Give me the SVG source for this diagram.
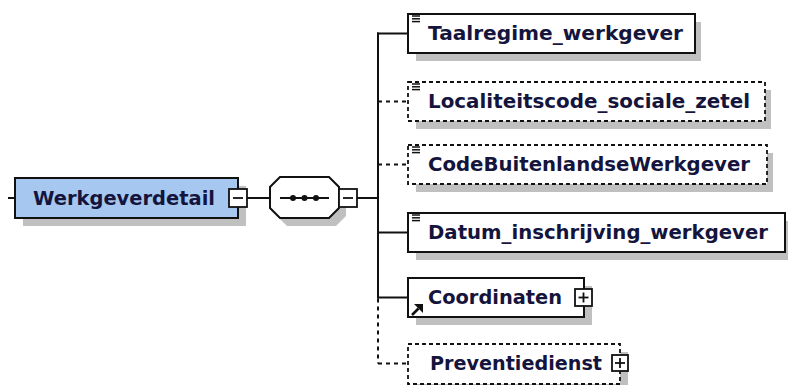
<svg xmlns="http://www.w3.org/2000/svg" width="788" height="385" viewBox="0 0 788 385">
<style>
.shadow{fill:#c0c0c0;stroke:none}
.box{fill:#ffffff;stroke:#111111;stroke-width:2}
.opt{fill:#ffffff;stroke:#111111;stroke-width:1.8;stroke-dasharray:4 3}
.main{fill:#a6c8f0;stroke:#111111;stroke-width:2}
.lbl{font-family:"DejaVu Sans",Verdana,sans-serif;font-weight:bold;font-size:19.5px;fill:#14143c}
.ln{stroke:#111111;stroke-width:2;fill:none}
.dl{stroke:#111111;stroke-width:2;fill:none;stroke-dasharray:4 4}
.btn{fill:#ffffff;stroke:#111111;stroke-width:1.8}
.sg{stroke:#111111;stroke-width:1.8;fill:none}
.ico{stroke:#111111;stroke-width:1.5}
</style>
<defs>
<g id="elico"><line class="ico" x1="0" y1="0" x2="8" y2="0"/><line class="ico" x1="0" y1="2.8" x2="8" y2="2.8"/><line class="ico" x1="0" y1="5.6" x2="8" y2="5.6"/></g>
</defs>
<g id="connectors">
<line class="ln" x1="8" y1="198" x2="15" y2="198"/>
<line class="ln" x1="247" y1="198" x2="270" y2="198"/>
<line class="ln" x1="357" y1="198" x2="378" y2="198"/>
<line class="ln" x1="378" y1="32.5" x2="378" y2="298.5"/>
<line class="dl" x1="378" y1="298.5" x2="378" y2="363.5"/>
<line class="ln" x1="377" y1="33.5" x2="408" y2="33.5"/>
<line class="dl" x1="378" y1="101.5" x2="408" y2="101.5"/>
<line class="dl" x1="378" y1="164.5" x2="408" y2="164.5"/>
<line class="ln" x1="378" y1="232.5" x2="408" y2="232.5"/>
<line class="ln" x1="378" y1="297.5" x2="408" y2="297.5"/>
<line class="dl" x1="378" y1="363.5" x2="408" y2="363.5"/>
</g>
<g id="Werkgeverdetail">
<rect class="shadow" x="23" y="186" width="223" height="40"/>
<rect class="main" x="15" y="178" width="223" height="40"/>
<text class="lbl" x="33" y="205" textLength="182" lengthAdjust="spacingAndGlyphs">Werkgeverdetail</text>
<rect class="btn" x="229" y="189" width="18" height="18"/>
<line class="sg" x1="233" y1="198" x2="243" y2="198"/>
</g>
<g id="sequence">
<polygon class="shadow" points="287,185 336,185 346,195 346,216 336,226 287,226 277,216 277,195"/>
<polygon class="box" points="280,177 329,177 339,187 339,208 329,218 280,218 270,208 270,187"/>
<line class="ln" x1="280" y1="198" x2="329" y2="198"/>
<circle cx="293" cy="198" r="3" fill="#111111"/>
<circle cx="304.5" cy="198" r="3" fill="#111111"/>
<circle cx="316" cy="198" r="3" fill="#111111"/>
<rect class="btn" x="339" y="189" width="18" height="18"/>
<line class="sg" x1="343" y1="198" x2="353" y2="198"/>
</g>
<g id="Taalregime_werkgever">
<rect class="shadow" x="416" y="22" width="285" height="39"/>
<rect class="box" x="408" y="14" width="287" height="39"/>
<use href="#elico" x="412" y="16"/>
<text class="lbl" x="428" y="40" textLength="255" lengthAdjust="spacingAndGlyphs">Taalregime_werkgever</text>
</g>
<g id="Localiteitscode_sociale_zetel">
<rect class="shadow" x="416" y="90" width="355" height="39"/>
<rect class="opt" x="408" y="82" width="357" height="39"/>
<use href="#elico" x="412" y="84"/>
<text class="lbl" x="428" y="108" textLength="322" lengthAdjust="spacingAndGlyphs">Localiteitscode_sociale_zetel</text>
</g>
<g id="CodeBuitenlandseWerkgever">
<rect class="shadow" x="416" y="153" width="357" height="39"/>
<rect class="opt" x="408" y="145" width="359" height="39"/>
<use href="#elico" x="412" y="147"/>
<text class="lbl" x="428" y="171" textLength="322" lengthAdjust="spacingAndGlyphs">CodeBuitenlandseWerkgever</text>
</g>
<g id="Datum_inschrijving_werkgever">
<rect class="shadow" x="416" y="221" width="372" height="39"/>
<rect class="box" x="408" y="213" width="377" height="39"/>
<use href="#elico" x="412" y="215"/>
<text class="lbl" x="428" y="239" textLength="340" lengthAdjust="spacingAndGlyphs">Datum_inschrijving_werkgever</text>
</g>
<g id="Coordinaten">
<rect class="shadow" x="416" y="286" width="176" height="39"/>
<rect class="box" x="408" y="278" width="176" height="39"/>
<line x1="412" y1="315" x2="418.5" y2="308.5" stroke="#111111" stroke-width="2.6"/>
<polygon points="423,304 423,313 414,304" fill="#111111"/>
<text class="lbl" x="428" y="304" textLength="134" lengthAdjust="spacingAndGlyphs">Coordinaten</text>
<rect class="btn" x="575" y="289" width="17" height="17"/>
<line class="sg" x1="578.5" y1="297.5" x2="588.5" y2="297.5"/>
<line class="sg" x1="583.5" y1="292.5" x2="583.5" y2="302.5"/>
</g>
<g id="Preventiedienst">
<rect class="shadow" x="416" y="352" width="212" height="40"/>
<rect class="opt" x="408" y="344" width="212" height="40"/>
<text class="lbl" x="430" y="370" textLength="172" lengthAdjust="spacingAndGlyphs">Preventiedienst</text>
<rect class="btn" x="612" y="355" width="16" height="16"/>
<line class="sg" x1="615" y1="363" x2="625" y2="363"/>
<line class="sg" x1="620" y1="358" x2="620" y2="368"/>
</g>
</svg>
